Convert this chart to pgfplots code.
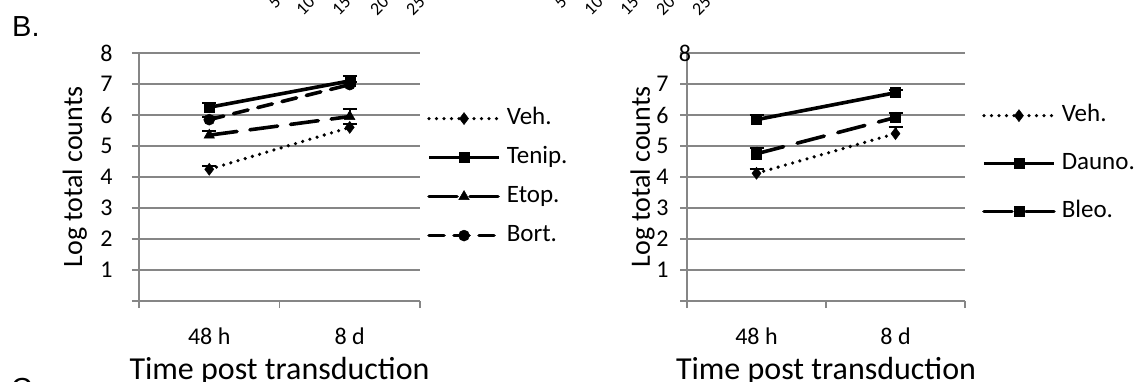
\documentclass[border=0pt]{standalone}
\usepackage{pgfplots}
\pgfplotsset{compat=1.18}
\usepackage{fontspec}
\setmainfont{Carlito}
\newfontfamily\arialfont{Liberation Sans}
\definecolor{gridgray}{RGB}{134,134,134}

\pgfplotsset{
  mybase/.style={
    scale only axis,
    height=248pt,
    xmin=0, xmax=2, ymin=0, ymax=8,
    axis lines=left,
    axis line style={-, gridgray, line width=1.7pt},
    xtick={0,1,2}, xticklabels={},
    extra x ticks={0.5,1.5},
    extra x tick labels={48 h, 8 d},
    extra x tick style={major tick length=0pt, xticklabel style={yshift=-23pt}},
    ytick={0,1,...,8},
    tick align=outside,
    major tick length=7pt,
    tick style={gridgray, line width=1.7pt},
    ymajorgrids,
    grid style={gridgray, line width=1.7pt},
    xticklabel style={font=\fontsize{24}{28}\selectfont},
    xlabel={Time post transduction},
    ylabel={Log total counts},
    xlabel style={font=\fontsize{32}{36}\selectfont, at={(axis description cs:0.5,0)}, anchor=base, yshift=-78pt},
    ylabel style={font=\fontsize{28}{32}\selectfont},
    clip=false,
    legend cell align=left,
    legend image code/.code={\draw[mark repeat=2, mark phase=2, #1] plot coordinates {(0pt,0pt) (35pt,0pt) (70pt,0pt)};},
    error bars/y dir=plus,
    error bars/y explicit,
    error bars/error bar style={line width=2pt, solid, black},
    error bars/error mark options={rotate=90, line width=2pt, mark size=7pt, black, solid},
  },
  vehstyle/.style={black, line width=3.6pt, dash pattern=on 0pt off 7.5pt, line cap=round,
    mark=diamond*, mark size=6pt, mark options={solid, fill=black, line width=0.5pt}},
  solidsq/.style={black, line width=3.6pt, solid,
    mark=square*, mark size=5pt, mark options={solid, fill=black, line width=0.5pt}},
  longdashsq/.style={black, line width=3.6pt, dash pattern=on 28pt off 14pt, line cap=round,
    mark=square*, mark size=5pt, mark options={solid, fill=black, line width=0.5pt}},
  etopstyle/.style={black, line width=3.6pt, dash pattern=on 28pt off 13pt, line cap=round,
    mark=triangle*, mark size=6pt, mark options={solid, fill=black, line width=0.5pt}},
  bortstyle/.style={black, line width=3.6pt, dash pattern=on 15pt off 10pt, line cap=round,
    mark=*, mark size=5.5pt, mark options={solid, fill=black, line width=0.5pt}},
}

\begin{document}
\begin{tikzpicture}
\useasboundingbox (0,0) rectangle (1138pt,-381pt);
\clip (0,0) rectangle (1138pt,-381pt);

% panel letter
\node[anchor=base west, inner sep=0pt, font=\fontsize{29}{33}\selectfont\arialfont] at (12pt,-36pt) {B.};
\node[anchor=base west, inner sep=0pt, font=\fontsize{29}{33}\selectfont\arialfont] at (11pt,-398pt) {C.};

% clipped category labels of the panel above
\foreach \xx/\tt in {272/5,306/10,342/15,380/20,416/25,558/5,594/10,630/15,666/20,702/25}{
  \node[rotate=45, anchor=east, inner sep=0pt, font=\fontsize{18}{20}\selectfont] at (\xx pt+6pt,1pt) {\tt};
}

% ---------------- left axis ----------------
\begin{axis}[mybase,
  at={(139pt,-301pt)}, anchor=south west,
  width=281pt,
  yticklabels={,1,2,3,4,5,6,7,8},
  yticklabel style={font=\fontsize{24}{28}\selectfont, xshift=-16pt},
  ylabel style={at={(axis description cs:-0.228,0.5)}, anchor=center},
  legend style={at={(axis description cs:1.025,0.815)}, anchor=north west,
    draw=none, fill=none, inner sep=0pt, row sep=0pt, column sep=6pt,
    font=\fontsize{25}{29}\selectfont,
    nodes={inner sep=0pt, text height=25pt, text depth=14pt}},
]
\addplot+[vehstyle] table[x=x, y=y, y error=e, row sep=\\] {
x y e \\ 0.5 4.25 0.12 \\ 1.5 5.60 0.12 \\
};
\addlegendentry{Veh.}
\addplot+[solidsq] table[x=x, y=y, y error=e, row sep=\\] {
x y e \\ 0.5 6.25 0.15 \\ 1.5 7.10 0.17 \\
};
\addlegendentry{Tenip.}
\addplot+[etopstyle] table[x=x, y=y, y error=e, row sep=\\] {
x y e \\ 0.5 5.35 0.12 \\ 1.5 5.95 0.25 \\
};
\addlegendentry{Etop.}
\addplot+[bortstyle] table[x=x, y=y, y error=e, row sep=\\] {
x y e \\ 0.5 5.85 0.10 \\ 1.5 6.98 0.10 \\
};
\addlegendentry{Bort.}
\end{axis}

% ---------------- right axis ----------------
\begin{axis}[mybase,
  at={(687pt,-301pt)}, anchor=south west,
  width=278pt,
  yticklabels={,1,2,3,4,5,6,7,{}},
  yticklabel style={font=\fontsize{24}{28}\selectfont, xshift=-8pt},
  ylabel style={at={(axis description cs:-0.16,0.5)}, anchor=center},
  legend style={at={(axis description cs:1.061,0.845)}, anchor=north west,
    draw=none, fill=none, inner sep=0pt, row sep=0pt, column sep=6pt,
    font=\fontsize{25}{29}\selectfont,
    nodes={inner sep=0pt, text height=29.5pt, text depth=18.5pt}},
]
\addplot+[vehstyle] table[x=x, y=y, y error=e, row sep=\\] {
x y e \\ 0.5 4.12 0.13 \\ 1.5 5.40 0.20 \\
};
\addlegendentry{Veh.}
\addplot+[solidsq] table[x=x, y=y, y error=e, row sep=\\] {
x y e \\ 0.5 5.85 0.15 \\ 1.5 6.72 0.10 \\
};
\addlegendentry{Dauno.}
\addplot+[longdashsq] table[x=x, y=y, y error=e, row sep=\\] {
x y e \\ 0.5 4.75 0.20 \\ 1.5 5.92 0.15 \\
};
\addlegendentry{Bleo.}
\node[font=\fontsize{24}{28}\selectfont, inner sep=0pt] at (rel axis cs:0,1) [xshift=-2pt] {8};
\end{axis}
\end{tikzpicture}
\end{document}
